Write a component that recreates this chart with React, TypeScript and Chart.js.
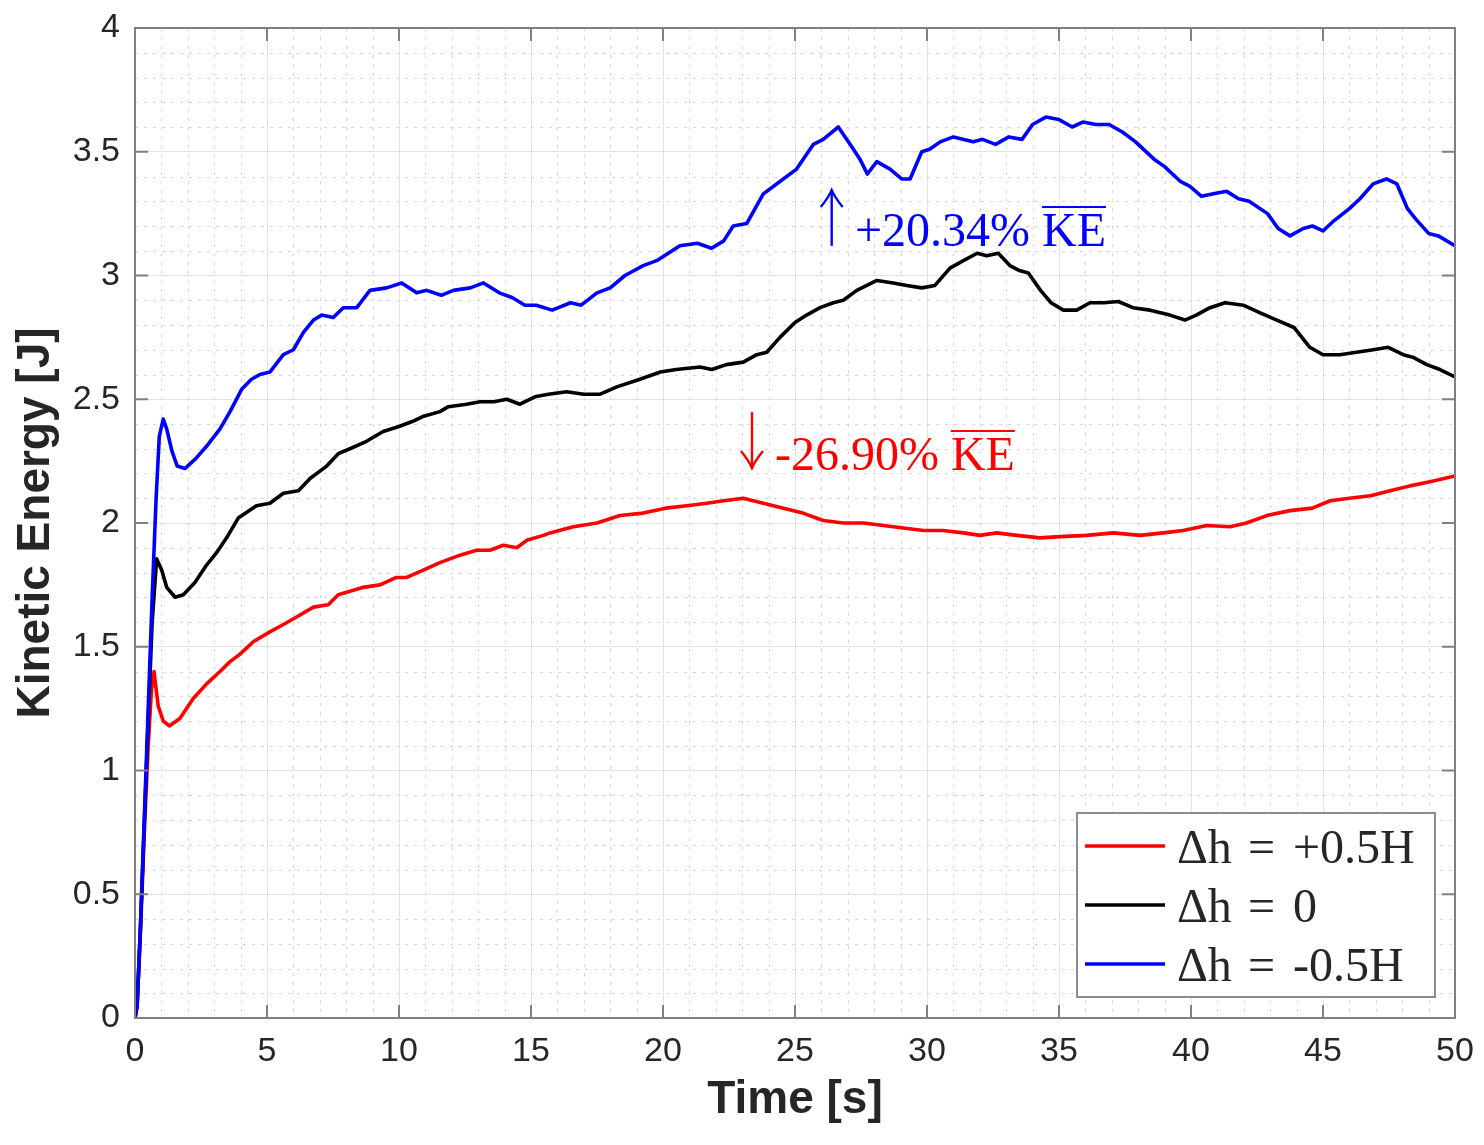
import React, { useEffect, useRef } from 'react';
import { Chart, registerables } from 'chart.js';

Chart.register(...registerables);

// Δh = +0.5H
const redTime = [0, 0.08, 0.2, 0.35, 0.5, 0.62, 0.72, 0.88, 1.07, 1.3, 1.7, 2.2, 2.71, 3.22, 3.6, 3.98, 4.48, 5.11, 5.62, 6.12, 6.76, 7.32, 7.7, 8.65, 9.28, 9.9, 10.29, 10.92, 11.55, 12.31, 12.94, 13.45, 13.95, 14.46, 14.84, 15.47, 15.72, 16.6, 17.5, 18.37, 19.25, 20.1, 20.9, 21.65, 22.3, 23.04, 23.8, 24.56, 25.3, 26.07, 26.83, 27.6, 28.35, 29.1, 29.86, 30.6, 31.38, 32.0, 32.64, 33.4, 34.28, 35.04, 36.05, 37.06, 38.07, 38.95, 39.7, 40.6, 41.48, 42.1, 42.87, 43.75, 44.6, 45.27, 46.0, 46.8, 47.54, 48.3, 49.18, 50];
const redKE = [0, 0.05, 0.33, 0.74, 1.1, 1.32, 1.4, 1.26, 1.2, 1.18, 1.21, 1.29, 1.35, 1.4, 1.44, 1.47, 1.52, 1.56, 1.59, 1.62, 1.66, 1.67, 1.71, 1.74, 1.75, 1.78, 1.78, 1.81, 1.84, 1.87, 1.89, 1.89, 1.91, 1.9, 1.93, 1.95, 1.96, 1.985, 2.0, 2.03, 2.04, 2.06, 2.07, 2.08, 2.09, 2.1, 2.08, 2.06, 2.04, 2.01, 2.0, 2.0, 1.99, 1.98, 1.97, 1.97, 1.96, 1.95, 1.96, 1.95, 1.94, 1.945, 1.95, 1.96, 1.95, 1.96, 1.97, 1.99, 1.985, 2.0, 2.03, 2.05, 2.06, 2.09, 2.1, 2.11, 2.13, 2.15, 2.17, 2.19];

// Δh = 0
const blackTime = [0, 0.08, 0.2, 0.35, 0.5, 0.65, 0.82, 1.01, 1.2, 1.52, 1.83, 2.27, 2.71, 3.09, 3.47, 3.91, 4.6, 5.11, 5.62, 6.19, 6.63, 7.26, 7.7, 8.14, 8.77, 9.4, 10.0, 10.5, 10.9, 11.55, 11.87, 12.56, 13.07, 13.6, 14.08, 14.58, 15.15, 15.66, 16.35, 17.0, 17.6, 18.25, 19.1, 19.9, 20.5, 21.4, 21.85, 22.4, 23.04, 23.55, 23.93, 24.43, 25.0, 25.44, 25.95, 26.45, 26.83, 27.34, 28.1, 28.72, 29.23, 29.8, 30.3, 30.87, 31.38, 31.9, 32.26, 32.7, 33.14, 33.5, 33.84, 34.3, 34.7, 35.16, 35.67, 36.17, 36.7, 37.25, 37.8, 38.45, 39.2, 39.77, 40.2, 40.72, 41.29, 41.98, 42.6, 43.25, 43.9, 44.2, 44.5, 45.0, 45.64, 46.27, 46.9, 47.47, 48.04, 48.4, 48.93, 49.43, 50];
const blackKE = [0, 0.05, 0.35, 0.78, 1.2, 1.6, 1.855, 1.81, 1.74, 1.7, 1.71, 1.76, 1.83, 1.88, 1.94, 2.02, 2.07, 2.08, 2.12, 2.13, 2.18, 2.23, 2.28, 2.3, 2.33, 2.37, 2.39, 2.41, 2.43, 2.45, 2.47, 2.48, 2.49, 2.49, 2.5, 2.48, 2.51, 2.52, 2.53, 2.52, 2.52, 2.55, 2.58, 2.61, 2.62, 2.63, 2.62, 2.64, 2.65, 2.68, 2.69, 2.75, 2.81, 2.84, 2.87, 2.89, 2.9, 2.94, 2.98, 2.97, 2.96, 2.95, 2.96, 3.03, 3.06, 3.09, 3.08, 3.09, 3.04, 3.02, 3.01, 2.94, 2.89, 2.86, 2.86, 2.89, 2.89, 2.895, 2.87, 2.86, 2.84, 2.82, 2.84, 2.87, 2.89, 2.88, 2.85, 2.82, 2.79, 2.75, 2.71, 2.68, 2.68, 2.69, 2.7, 2.71, 2.68, 2.67, 2.64, 2.62, 2.59];

// Δh = -0.5H
const blueTime = [0, 0.08, 0.2, 0.35, 0.5, 0.65, 0.8, 0.92, 1.07, 1.2, 1.4, 1.6, 1.89, 2.3, 2.71, 3.22, 3.6, 4.04, 4.4, 4.73, 5.11, 5.62, 6.0, 6.38, 6.76, 7.07, 7.51, 7.89, 8.4, 8.9, 9.53, 10.1, 10.67, 11.05, 11.6, 12.06, 12.7, 13.2, 13.8, 14.3, 14.77, 15.2, 15.8, 16.5, 16.9, 17.5, 18.0, 18.56, 19.25, 19.76, 20.64, 21.3, 21.84, 22.3, 22.66, 23.17, 23.8, 24.43, 25.06, 25.7, 26.07, 26.64, 27.15, 27.46, 27.74, 28.1, 28.6, 29.04, 29.36, 29.8, 30.1, 30.5, 31.0, 31.75, 32.1, 32.6, 33.1, 33.6, 34.0, 34.5, 35.0, 35.5, 35.9, 36.4, 36.9, 37.4, 37.9, 38.6, 39.0, 39.6, 39.96, 40.4, 40.85, 41.35, 41.8, 42.2, 42.9, 43.3, 43.75, 44.25, 44.6, 45.0, 45.4, 46.0, 46.4, 46.9, 47.4, 47.8, 48.2, 48.5, 49.0, 49.37, 50];
const blueKE = [0, 0.05, 0.35, 0.8, 1.25, 1.7, 2.1, 2.35, 2.42, 2.38, 2.29, 2.23, 2.22, 2.26, 2.31, 2.38, 2.45, 2.54, 2.58, 2.6, 2.61, 2.68, 2.7, 2.77, 2.82, 2.84, 2.83, 2.87, 2.87, 2.94, 2.95, 2.97, 2.93, 2.94, 2.92, 2.94, 2.95, 2.97, 2.93, 2.91, 2.88, 2.88, 2.86, 2.89, 2.88, 2.93, 2.95, 3.0, 3.04, 3.06, 3.12, 3.13, 3.11, 3.14, 3.2, 3.21, 3.33, 3.38, 3.43, 3.53, 3.55, 3.6, 3.52, 3.47, 3.41, 3.46, 3.43, 3.39, 3.39, 3.5, 3.51, 3.54, 3.56, 3.54, 3.55, 3.53, 3.56, 3.55, 3.61, 3.64, 3.63, 3.6, 3.62, 3.61, 3.61, 3.58, 3.54, 3.47, 3.44, 3.38, 3.36, 3.32, 3.33, 3.34, 3.31, 3.3, 3.25, 3.19, 3.16, 3.19, 3.2, 3.18, 3.22, 3.27, 3.31, 3.37, 3.39, 3.37, 3.27, 3.23, 3.17, 3.16, 3.12];

const legendLabels = ['Δh = +0.5H', 'Δh = 0', 'Δh = -0.5H'];
const seriesColors = ['#ff0000', '#000000', '#0000ff'];

const xMin = 0;
const xMax = 50;
const xStep = 5;
const yMin = 0;
const yMax = 4;
const yStep = 0.5;

const upNote = '+20.34% ';
const downNote = '-26.90% ';
const barNote = 'KE';

const AXIS_GREY = '#808080';
const TEXT_DARK = '#262626';
const SANS = '"Liberation Sans", Arial, sans-serif';
const SERIF = '"Liberation Serif", "Times New Roman", serif';

const toPoints = (ts: number[], vs: number[]) => ts.map((t, i) => ({ x: t, y: vs[i] }));

function drawArrow(ctx: CanvasRenderingContext2D, x: number, yTail: number, yTip: number, color: string) {
    const dir = yTip < yTail ? 1 : -1;
    ctx.strokeStyle = color;
    ctx.lineWidth = 2.4;
    ctx.setLineDash([]);
    ctx.beginPath();
    ctx.moveTo(x, yTail);
    ctx.lineTo(x, yTip);
    ctx.stroke();
    ctx.beginPath();
    ctx.moveTo(x - 11, yTip + dir * 17);
    ctx.quadraticCurveTo(x - 3, yTip + dir * 7, x, yTip);
    ctx.quadraticCurveTo(x + 3, yTip + dir * 7, x + 11, yTip + dir * 17);
    ctx.stroke();
}

function drawNote(ctx: CanvasRenderingContext2D, x: number, baseline: number, text: string, color: string) {
    ctx.fillStyle = color;
    ctx.strokeStyle = color;
    ctx.font = `48px ${SERIF}`;
    ctx.textAlign = 'left';
    ctx.textBaseline = 'alphabetic';
    ctx.fillText(text, x, baseline);
    const kx = x + ctx.measureText(text).width;
    ctx.fillText(barNote, kx, baseline);
    const kw = ctx.measureText(barNote).width;
    ctx.lineWidth = 2;
    ctx.beginPath();
    ctx.moveTo(kx, baseline - 39);
    ctx.lineTo(kx + kw, baseline - 39);
    ctx.stroke();
}

const matlabAxes = {
    id: 'matlabAxes',
    beforeDatasetsDraw(chart: Chart) {
        const { ctx, chartArea: a } = chart;
        const x = chart.scales.x;
        const y = chart.scales.y;
        ctx.save();
        ctx.strokeStyle = '#d6d6d6';
        ctx.lineWidth = 1;
        ctx.setLineDash([3, 6]);
        for (let t = xMin + 1; t < xMax; t += 1) {
            if (t % xStep === 0) continue;
            const px = Math.round(x.getPixelForValue(t)) + 0.5;
            ctx.beginPath();
            ctx.moveTo(px, a.top);
            ctx.lineTo(px, a.bottom);
            ctx.stroke();
        }
        for (let i = 1; i < (yMax - yMin) * 10; i++) {
            if (i % 5 === 0) continue;
            const py = Math.round(y.getPixelForValue(yMin + i / 10)) + 0.5;
            ctx.beginPath();
            ctx.moveTo(a.left, py);
            ctx.lineTo(a.right, py);
            ctx.stroke();
        }
        ctx.restore();
    },
    afterDatasetsDraw(chart: Chart) {
        const { ctx, chartArea: a } = chart;
        const x = chart.scales.x;
        const y = chart.scales.y;
        ctx.save();

        // box and inward ticks
        ctx.setLineDash([]);
        ctx.strokeStyle = AXIS_GREY;
        ctx.lineWidth = 2;
        ctx.strokeRect(a.left, a.top, a.right - a.left, a.bottom - a.top);
        ctx.beginPath();
        for (let t = xMin + xStep; t < xMax; t += xStep) {
            const px = x.getPixelForValue(t);
            ctx.moveTo(px, a.bottom);
            ctx.lineTo(px, a.bottom - 13);
            ctx.moveTo(px, a.top);
            ctx.lineTo(px, a.top + 13);
        }
        for (let v = yMin + yStep; v < yMax; v += yStep) {
            const py = y.getPixelForValue(v);
            ctx.moveTo(a.left, py);
            ctx.lineTo(a.left + 13, py);
            ctx.moveTo(a.right, py);
            ctx.lineTo(a.right - 13, py);
        }
        ctx.stroke();

        // annotations
        drawArrow(ctx, x.getPixelForValue(26.39), y.getPixelForValue(3.12), y.getPixelForValue(3.345), seriesColors[2]);
        drawNote(ctx, x.getPixelForValue(27.27), y.getPixelForValue(3.119), upNote, seriesColors[2]);
        drawArrow(ctx, x.getPixelForValue(23.37), y.getPixelForValue(2.448), y.getPixelForValue(2.222), seriesColors[0]);
        drawNote(ctx, x.getPixelForValue(24.24), y.getPixelForValue(2.214), downNote, seriesColors[0]);

        // legend box
        const w = 358;
        const h = 184;
        const lx = a.right - 20 - w;
        const ly = a.bottom - 21 - h;
        ctx.fillStyle = '#ffffff';
        ctx.fillRect(lx, ly, w, h);
        ctx.strokeStyle = '#8c8c8c';
        ctx.lineWidth = 2;
        ctx.strokeRect(lx, ly, w, h);
        ctx.font = `48px ${SERIF}`;
        ctx.textBaseline = 'alphabetic';
        ctx.textAlign = 'left';
        legendLabels.forEach((label, i) => {
            const ry = ly + 33 + i * 59;
            ctx.strokeStyle = seriesColors[i];
            ctx.lineWidth = 3.5;
            ctx.beginPath();
            ctx.moveTo(lx + 8, ry);
            ctx.lineTo(lx + 88, ry);
            ctx.stroke();
            const [lhs, rhs] = label.split(' = ');
            ctx.fillStyle = TEXT_DARK;
            ctx.fillText(lhs, lx + 100, ry + 17);
            ctx.fillText('=', lx + 171, ry + 17);
            ctx.fillText(rhs, lx + 216, ry + 17);
        });
        ctx.restore();
    },
};

export default function App() {
    const canvasRef = useRef<HTMLCanvasElement>(null);

    useEffect(() => {
        document.body.style.margin = '0';
        document.body.style.overflow = 'hidden';
        const ctx = canvasRef.current?.getContext('2d');
        if (!ctx) return;

        const series = [
            { label: legendLabels[0], data: toPoints(redTime, redKE), color: seriesColors[0], order: 3 },
            { label: legendLabels[1], data: toPoints(blackTime, blackKE), color: seriesColors[1], order: 2 },
            { label: legendLabels[2], data: toPoints(blueTime, blueKE), color: seriesColors[2], order: 1 },
        ];

        const chart = new Chart(ctx, {
            type: 'line',
            data: {
                datasets: series.map(s => ({
                    label: s.label,
                    data: s.data,
                    borderColor: s.color,
                    backgroundColor: s.color,
                    borderWidth: 3.6,
                    pointRadius: 0,
                    tension: 0,
                    fill: false,
                    order: s.order,
                    borderJoinStyle: 'round' as const,
                    borderCapStyle: 'round' as const,
                })),
            },
            options: {
                responsive: true,
                maintainAspectRatio: false,
                animation: false,
                layout: { padding: { top: 28, right: 29, bottom: 0, left: 0 } },
                plugins: {
                    legend: { display: false },
                    tooltip: { enabled: false },
                },
                scales: {
                    x: {
                        type: 'linear',
                        min: xMin,
                        max: xMax,
                        afterFit: (scale: any) => {
                            scale.height = 127;
                            scale.paddingLeft = 0;
                            scale.paddingRight = 0;
                        },
                        grid: { color: '#e2e2e2', lineWidth: 1, drawTicks: false },
                        border: { display: false },
                        ticks: {
                            stepSize: xStep,
                            padding: 13,
                            color: TEXT_DARK,
                            font: { family: SANS, size: 34 },
                        },
                        title: {
                            display: true,
                            text: 'Time [s]',
                            color: TEXT_DARK,
                            padding: { top: 0, bottom: 17 },
                            font: { family: SANS, size: 46, weight: 'bold' },
                        },
                    },
                    y: {
                        type: 'linear',
                        min: yMin,
                        max: yMax,
                        afterFit: (scale: any) => {
                            scale.width = 135;
                            scale.paddingTop = 0;
                            scale.paddingBottom = 0;
                        },
                        grid: { color: '#e2e2e2', lineWidth: 1, drawTicks: false },
                        border: { display: false },
                        ticks: {
                            stepSize: yStep,
                            padding: 15,
                            color: TEXT_DARK,
                            font: { family: SANS, size: 34 },
                            callback: (v: number | string) => String(Number(v)),
                        },
                        title: {
                            display: true,
                            text: 'Kinetic Energy [J]',
                            color: TEXT_DARK,
                            padding: { top: 9, bottom: 0 },
                            font: { family: SANS, size: 46, weight: 'bold' },
                        },
                    },
                },
            },
            plugins: [matlabAxes],
        });

        return () => chart.destroy();
    }, []);

    return (
        <div style={{ width: 1484, height: 1145, position: 'relative', background: '#ffffff' }}>
            <canvas ref={canvasRef} />
        </div>
    );
}
